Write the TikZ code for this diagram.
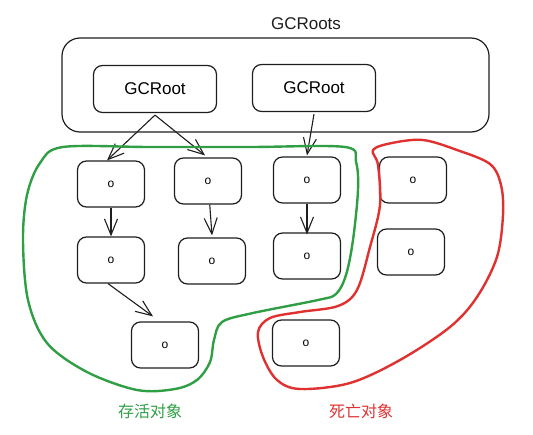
\documentclass[tikz,border=0pt]{standalone}
\usepackage{fontspec}
\setmainfont{Liberation Sans}
\newfontfamily\cjk{Noto Sans CJK SC}
\usetikzlibrary{arrows.meta}
\definecolor{ink}{HTML}{1E1E1E}
\definecolor{livegreen}{HTML}{2F9E44}
\definecolor{deadred}{HTML}{E03131}
\begin{document}
\begin{tikzpicture}[x=1pt, y=-1pt, line join=round,
    obj/.style={rectangle, draw=ink, line width=1.2pt, rounded corners=9pt, minimum width=67pt, minimum height=46pt, inner sep=0pt, font=\fontsize{12}{12}\selectfont},
    root/.style={obj, minimum width=123pt, minimum height=47pt, font=\fontsize{17}{20}\selectfont},
    ref/.style={draw=ink, line width=1.1pt, -{Straight Barb[length=16pt, width=13pt]}}]
   \useasboundingbox (0,0) rectangle (533,434);
   \node[font=\fontsize{17}{20}\selectfont, text=ink] (T) at (306,24) {GCRoots};
   \node[obj, rounded corners=18pt, minimum width=427pt, minimum height=94pt] (R) at (275.5,85) {};
   \node[root] (G1) at (155,89) {GCRoot};
   \node[root] (G2) at (314,88) {GCRoot};
   \node[obj] (A1) at (111,184) {o};
   \node[obj] (B1) at (208,181) {o};
   \node[obj] (C1) at (307,180) {o};
   \node[obj] (A2) at (111,260) {o};
   \node[obj] (B2) at (212,261) {o};
   \node[obj] (C2) at (307,256) {o};
   \node[obj] (A3) at (165,345) {o};
   \node[obj] (D1) at (413,180) {o};
   \node[obj] (D2) at (411,252) {o};
   \node[obj] (D3) at (306,343) {o};
   \draw[ref] ([yshift=-2pt]G1.south) -- ([xshift=-4pt]A1.north);
   \draw[ref] ([yshift=-2pt]G1.south) -- ([xshift=-3pt,yshift=2pt]B1.north);
   \draw[ref] ([yshift=-2pt]G2.south) -- ([yshift=1pt]C1.north);
   \draw[ref] (A1) -- (A2);
   \draw[ref] (B1) -- ([yshift=2pt]B2.north);
   \draw[ref] (C1) -- ([yshift=-2pt]C2.north);
   \draw[ref] ([xshift=-3pt]A2.south) -- ([xshift=-12pt,yshift=5pt]A3.north);
   % the two groups
   \draw[livegreen, line width=2.4pt] plot[smooth cycle, tension=0.55] coordinates {(63,147) (150,147) (250,147) (345,147) (356,162) (358,190) (353,240) (346,275) (336,294) (318,300) (253,313) (222,322) (214,340) (210,362) (197,380) (175,389) (137,390) (87,372) (47,343) (28,300) (23,240) (27,195) (40,163)};
   \draw[deadred, line width=2.4pt] plot[smooth cycle, tension=0.55] coordinates {(373,150) (392,143) (423,140) (457,150) (490,164) (501,185) (503,215) (497,257) (477,297) (450,327) (400,360) (350,383) (300,389) (277,380) (263,357) (258,332) (270,318) (300,312) (338,306) (357,290) (370,247) (380,205) (378,165)};
   \node[font=\cjk\fontsize{16}{18}\selectfont, text=livegreen] (L1) at (150,411) {存活对象};
   \node[font=\cjk\fontsize{16}{18}\selectfont, text=deadred] (L2) at (361,411) {死亡对象};
\end{tikzpicture}
\end{document}
